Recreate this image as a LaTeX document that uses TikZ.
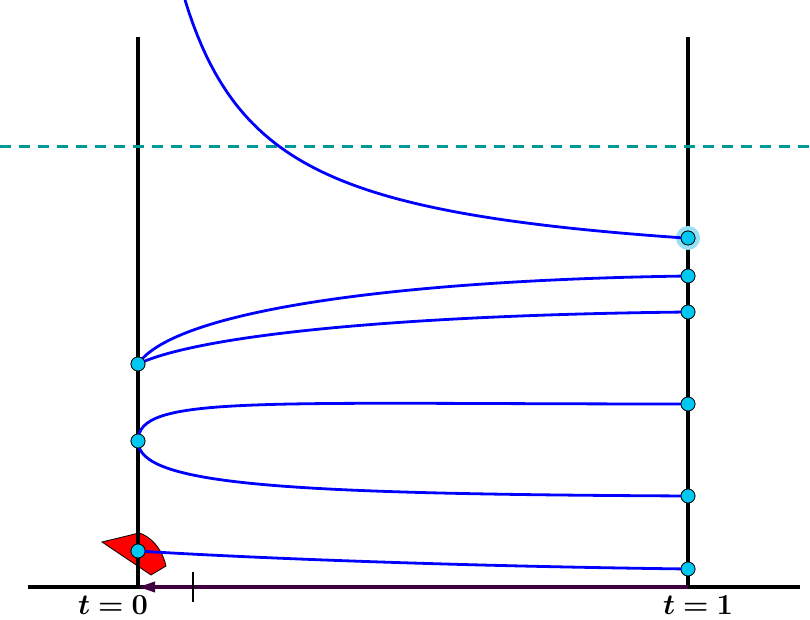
\documentclass[tikz,border=0pt]{standalone}
\usepackage{fix-cm}
\usepackage{bm}
\usetikzlibrary{arrows.meta}
\definecolor{flowblue}{RGB}{0,0,255}
\definecolor{dotcyan}{RGB}{0,200,240}
\definecolor{haze}{RGB}{150,225,245}
\definecolor{levelteal}{RGB}{0,153,153}
\definecolor{backpurple}{RGB}{64,0,64}
\definecolor{patch}{RGB}{255,0,0}
\begin{document}
\begin{tikzpicture}[x=1pt,y=1pt,font=\fontsize{29}{33}\selectfont]
\tikzstyle{axis} = [line width=3.5pt, black]
\tikzstyle{flow} = [line width=2.8pt, flowblue]
\tikzstyle{vertex} = [circle, draw, line width=0.7pt, fill=dotcyan, inner sep=0pt, minimum size=14pt]
\tikzstyle{arrow} = [-{Triangle[length=17pt,width=10pt]}, line width=3.2pt, backpurple]
\useasboundingbox (0,0) rectangle (810,620);
% red patch at the foot of the left line
\draw[fill=patch, line width=0.8pt] (102,78) -- (139,87) .. controls (150,84) and (162,72) .. (166,54) -- (151,45) -- cycle;
% axes
\coordinate (o) at (138,33);
\coordinate (e) at (688,33);
\coordinate (otop) at (138,583);
\coordinate (etop) at (688,583);
\draw[axis] (28,33) -- (800,33);
\draw[axis] (otop) -- (o);
\draw[axis] (etop) -- (e);
\draw[arrow] (e) -- (o);
\draw[line width=2.8pt] (193,48) -- (193,18);
% level line
\draw[levelteal, line width=3pt, dash pattern=on 11pt off 8pt] (0,473) -- (810,473);
% points
\node[circle, fill=haze, minimum size=24pt, inner sep=0pt] at (688,382) {};
\node[vertex] (L1) at (138,256) {};
\node[vertex] (L2) at (138,179) {};
\node[vertex] (L3) at (138,69) {};
\node[vertex] (R1) at (688,382) {};
\node[vertex] (R2) at (688,344) {};
\node[vertex] (R3) at (688,308) {};
\node[vertex] (R4) at (688,216) {};
\node[vertex] (R5) at (688,124) {};
\node[vertex] (R6) at (688,51) {};
% curves
\draw[flow] plot[domain=185:688, samples=120] (\x, {341.5+236.75/((\x-100)/100)});
\draw[flow] (L1.center) .. controls (175,310) and (400,340) .. (R2.center);
\draw[flow] (L1.center) .. controls (200,285) and (400,305) .. (R3.center);
\draw[flow] (L2.center) .. controls (138,225) and (250,216) .. (R4.center);
\draw[flow] (L2.center) .. controls (138,135) and (280,126) .. (R5.center);
\draw[flow] (L3.center) .. controls (250,62) and (450,54) .. (R6.center);
% redraw points over the curves
\foreach \p in {L1,L2,L3,R1,R2,R3,R4,R5,R6}
  \node[vertex] at (\p) {};
% labels
\node[anchor=base] (t0) at (113,5) {$\bm{t=0}$};
\node[anchor=base] (t1) at (698,5) {$\bm{t=1}$};
\end{tikzpicture}
\end{document}
